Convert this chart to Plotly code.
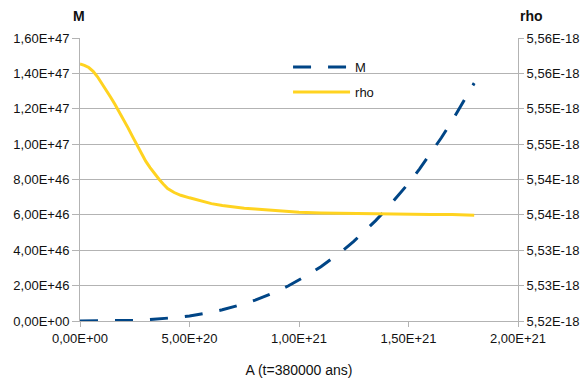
import plotly.graph_objects as go

# A values (x axis) for M, in units of 1e21
A = [0.00, 0.05, 0.10, 0.15, 0.20, 0.25, 0.30, 0.35, 0.40, 0.45, 0.50, 0.55, 0.60,
     0.65, 0.70, 0.75, 0.80, 0.85, 0.90, 0.95, 1.00, 1.05, 1.10, 1.15, 1.20, 1.25,
     1.30, 1.35, 1.40, 1.45, 1.50, 1.55, 1.60, 1.65, 1.70, 1.75, 1.80]

# M series, in units of 1e46
M_vals = [0.0, 0.0003, 0.0023, 0.0078, 0.0184, 0.036, 0.0623, 0.0989, 0.1476, 0.2101,
          0.2883, 0.3837, 0.4981, 0.6333, 0.791, 0.9729, 1.1807, 1.4162, 1.6811, 1.9771,
          2.306, 2.6695, 3.0693, 3.5071, 3.9848, 4.5039, 5.0663, 5.6736, 6.3277, 7.0301,
          7.7828, 8.5873, 9.4454, 10.3588, 11.3294, 12.3587, 13.4486]

# A values (x axis) for rho, in units of 1e21
A_rho = [0.00, 0.02, 0.04, 0.06, 0.08, 0.10, 0.12, 0.14, 0.16, 0.18, 0.20, 0.22, 0.24,
         0.26, 0.28, 0.30, 0.32, 0.34, 0.36, 0.38, 0.40, 0.43, 0.46, 0.50, 0.55, 0.60,
         0.65, 0.70, 0.75, 0.80, 0.85, 0.90, 0.95, 1.00, 1.10, 1.20, 1.30, 1.40, 1.50,
         1.60, 1.70, 1.75, 1.80]

# rho series, in units of 1e-18
rho_vals = [5.55633, 5.55614, 5.55583, 5.55529, 5.55452, 5.55360, 5.55262, 5.55162,
            5.55060, 5.54954, 5.54842, 5.54726, 5.54606, 5.54484, 5.54364, 5.54259,
            5.54169, 5.54085, 5.54007, 5.53936, 5.53873, 5.53816, 5.53777, 5.53741,
            5.53702, 5.53659, 5.53634, 5.53610, 5.53595, 5.53583, 5.53570, 5.53558,
            5.53546, 5.53537, 5.53527, 5.53521, 5.53515, 5.53512, 5.53510, 5.53507,
            5.53504, 5.53502, 5.53494]

x_tickvals = [0, 5e20, 1e21, 1.5e21, 2e21]
x_ticktext = ["0,00E+00", "5,00E+20", "1,00E+21", "1,50E+21", "2,00E+21"]

y1_tickvals = [0, 2e46, 4e46, 6e46, 8e46, 1e47, 1.2e47, 1.4e47, 1.6e47]
y1_ticktext = ["0,00E+00", "2,00E+46", "4,00E+46", "6,00E+46", "8,00E+46",
               "1,00E+47", "1,20E+47", "1,40E+47", "1,60E+47"]

y2_tickvals = [5.52e-18, 5.525e-18, 5.53e-18, 5.535e-18, 5.54e-18, 5.545e-18,
               5.55e-18, 5.555e-18, 5.56e-18]
y2_ticktext = ["5,52E-18", "5,53E-18", "5,53E-18", "5,54E-18", "5,54E-18",
               "5,55E-18", "5,55E-18", "5,56E-18", "5,56E-18"]

FONT = "Liberation Sans, Arial, sans-serif"
GRID = "#b3b3b3"
TXT = "#111111"

x_M = [a * 1e21 for a in A]
y_M = [v * 1e46 for v in M_vals]
x_r = [a * 1e21 for a in A_rho]
y_r = [v * 1e-18 for v in rho_vals]

fig = go.Figure()
fig.add_trace(go.Scatter(x=x_M, y=y_M, name="M", mode="lines", legendgroup="a",
                         line=dict(color="#004586", width=3, dash="18px,17px")))
fig.add_trace(go.Scatter(x=x_r, y=y_r, name="rho", mode="lines", yaxis="y2", legendgroup="b",
                         line=dict(color="#ffd320", width=3)))

# page body has an 8px margin, so the figure is 8px smaller than the window
W, H = 580, 381
L, R, T, B = 72, 70, 30, 68
fig.update_layout(
    width=W, height=H,
    margin=dict(l=L, r=R, t=T, b=B),
    paper_bgcolor="white", plot_bgcolor="white",
    font=dict(family=FONT, size=13, color=TXT),
    xaxis=dict(range=[0, 2e21], tickvals=x_tickvals, ticktext=x_ticktext, automargin=False,
               showgrid=False, zeroline=False, showline=True, linecolor=GRID, linewidth=1,
               ticks="outside", ticklen=5, tickcolor=GRID, tickfont=dict(size=13),
               title=dict(text="A (t=380000 ans)", font=dict(size=14, color=TXT), standoff=20)),
    yaxis=dict(range=[0, 1.6e47], tickvals=y1_tickvals, ticktext=y1_ticktext, automargin=False,
               showgrid=True, gridcolor=GRID, gridwidth=1, zeroline=False, tickfont=dict(size=13),
               showline=True, linecolor=GRID, ticks="outside", ticklen=7, tickcolor=GRID),
    yaxis2=dict(range=[5.52e-18, 5.56e-18], tickvals=y2_tickvals, ticktext=y2_ticktext,
                automargin=False, tickfont=dict(size=13),
                overlaying="y", side="right", showgrid=False, zeroline=False,
                showline=True, linecolor=GRID, ticks="outside", ticklen=5, tickcolor=GRID),
    legend=dict(x=0.475, y=0.95, xanchor="left", yanchor="top", bgcolor="rgba(0,0,0,0)",
                font=dict(size=13, color=TXT), itemwidth=57, tracegroupgap=5,
                traceorder="grouped"),
    showlegend=True,
)
pw = W - L - R
ph = H - T - B
fig.layout.annotations = [
    dict(text="<b>M</b>", x=(71 - L) / pw, y=(H - B - 8) / ph, xref="paper", yref="paper",
         showarrow=False, font=dict(size=14, color=TXT, family=FONT), xanchor="center", yanchor="middle"),
    dict(text="<b>rho</b>", x=(523 - L) / pw, y=(H - B - 8) / ph, xref="paper", yref="paper",
         showarrow=False, font=dict(size=14, color=TXT, family=FONT), xanchor="center", yanchor="middle"),
]

fig.write_html("out.html")
